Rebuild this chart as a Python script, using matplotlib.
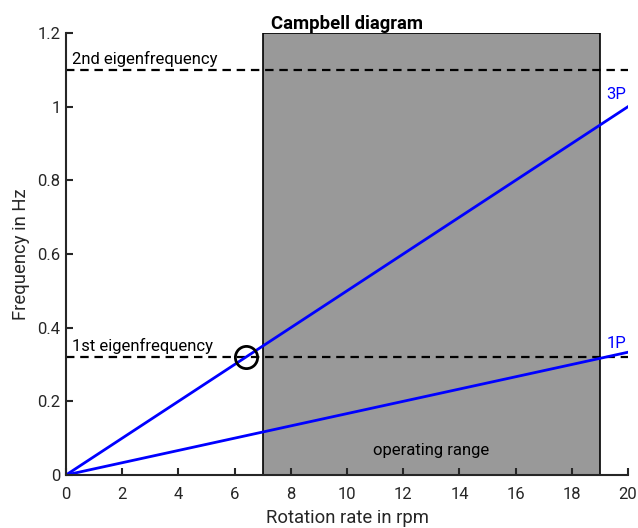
import matplotlib
matplotlib.use("Agg")
import matplotlib.pyplot as plt
import numpy as np
from matplotlib.patches import Rectangle

plt.rcParams['font.family'] = ['Roboto', 'DejaVu Sans']

rpm = [0, 20]
freq_1p = [0, 20 / 60]
freq_3p = [0, 3 * 20 / 60]
eig1 = 0.32
eig2 = 1.1
op_range = [7, 19]
crossing = (eig1 * 60 / 3, eig1)
xticks = [0, 2, 4, 6, 8, 10, 12, 14, 16, 18, 20]
yticks = [0, 0.2, 0.4, 0.6, 0.8, 1.0, 1.2]
yticklabels = ['0', '0.2', '0.4', '0.6', '0.8', '1', '1.2']

fig = plt.figure(figsize=(6.38, 5.28), dpi=100)
ax = fig.add_axes([66/638, 53/528, 562/638, 442/528])
axc = '#262626'

ax.add_patch(Rectangle((op_range[0], 0), op_range[1]-op_range[0], 1.2,
                       facecolor='#999999', edgecolor='black', lw=1.2, zorder=1))
ax.plot(rpm, [eig2, eig2], '--', color='black', lw=1.6, dashes=(3.8, 2.6), zorder=2)
ax.plot(rpm, [eig1, eig1], '--', color='black', lw=1.6, dashes=(3.8, 2.6), zorder=2)
ax.plot(rpm, freq_3p, color='#0000ff', lw=2, zorder=3)
ax.plot(rpm, freq_1p, color='#0000ff', lw=2, zorder=3)
ax.plot([crossing[0]], [crossing[1]], 'o', ms=16, mfc='none', mec='black', mew=2, zorder=4)

ax.text(0.2, eig2 + 0.008, '2nd eigenfrequency', fontsize=12, ha='left', va='bottom', color='black')
ax.text(0.2, eig1 + 0.008, '1st eigenfrequency', fontsize=12, ha='left', va='bottom', color='black')
ax.text(19.95, 1.012, '3P', fontsize=12, ha='right', va='bottom', color='#0000ff')
ax.text(19.95, 0.338, '1P', fontsize=12, ha='right', va='bottom', color='#0000ff')
ax.text(13, 0.066, 'operating range', fontsize=12, ha='center', va='center', color='black')

ax.set_xlim(0, 20)
ax.set_ylim(0, 1.2)
ax.set_xticks(xticks)
ax.set_yticks(yticks)
ax.set_yticklabels(yticklabels)
ax.tick_params(direction='in', length=5, width=1.5, colors=axc, labelsize=12, labelcolor=axc)
ax.tick_params(axis='x', pad=8.5)
ax.tick_params(axis='y', pad=4)
for s in ['top', 'right']:
    ax.spines[s].set_visible(False)
for s in ['left', 'bottom']:
    ax.spines[s].set_color(axc)
    ax.spines[s].set_linewidth(1.5)
ax.spines['left'].set_zorder(5)
ax.spines['bottom'].set_zorder(5)

ax.set_xlabel('Rotation rate in rpm', fontsize=13.3, color=axc, labelpad=5)
ax.set_ylabel('Frequency in Hz', fontsize=13.3, color=axc, labelpad=5)
ax.set_title('Campbell diagram', fontsize=13.3, fontweight='bold', color='black', pad=3)

fig.savefig('out.png', dpi=100)
